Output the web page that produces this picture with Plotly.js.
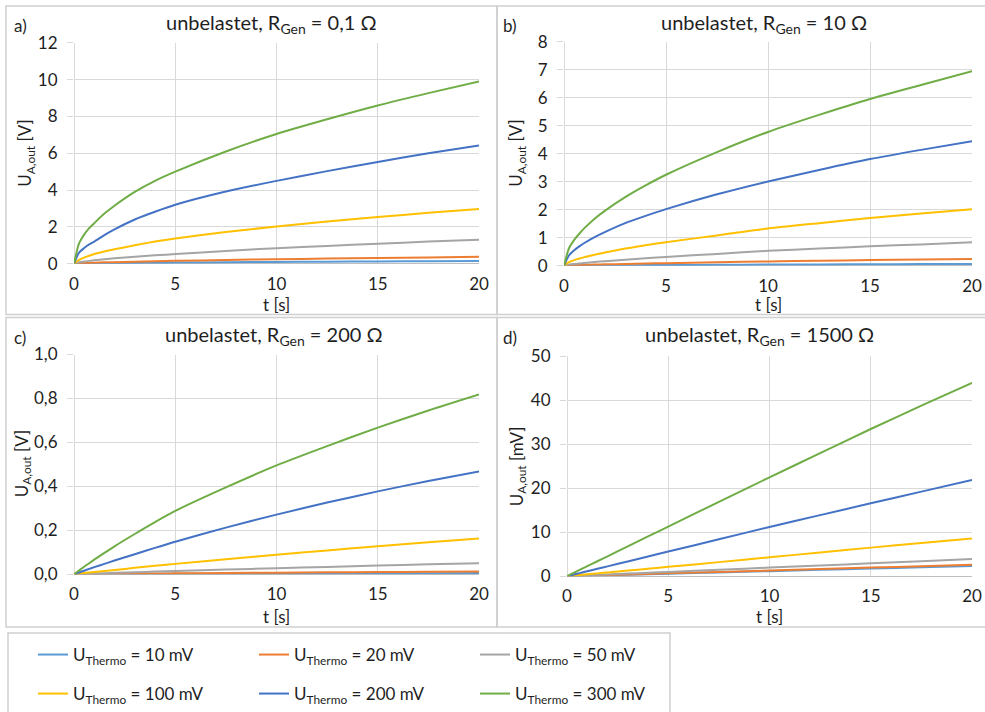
<!DOCTYPE html>
<html>
<head>
<meta charset="utf-8">
<script src="https://cdn.plot.ly/plotly-3.0.1.min.js"></script>
<style>html,body{margin:0;padding:0;background:#fff;}#chart{width:985px;height:712px;}</style>
</head>
<body>
<div id="chart"></div>
<script>
// ---- data ----
const t = [0, 0.25, 0.5, 0.75, 1, 1.5, 2, 3, 4, 5, 7.5, 10, 12.5, 15, 17.5, 20];
const seriesNames = ["U<sub>Thermo</sub> = 10 mV", "U<sub>Thermo</sub> = 20 mV", "U<sub>Thermo</sub> = 50 mV",
                     "U<sub>Thermo</sub> = 100 mV", "U<sub>Thermo</sub> = 200 mV", "U<sub>Thermo</sub> = 300 mV"];
const seriesColors = ["#5B9BD5", "#ED7D31", "#A5A5A5", "#FFC000", "#4472C4", "#70AD47"];

// a) R_Gen = 0,1 Ohm  [V]
const a10  = [0,0.008,0.012,0.016,0.02,0.026,0.032,0.041,0.05,0.057,0.076,0.092,0.106,0.119,0.132,0.143];
const a20  = [0,0.02,0.03,0.04,0.05,0.07,0.08,0.105,0.13,0.15,0.195,0.24,0.275,0.31,0.34,0.37];
const a50  = [0,0.07,0.11,0.15,0.18,0.24,0.29,0.37,0.45,0.52,0.69,0.84,0.96,1.08,1.2,1.3];
const a100 = [0,0.2,0.33,0.43,0.52,0.66,0.78,1.0,1.2,1.37,1.72,2.02,2.29,2.53,2.76,2.97];
const a200 = [0,0.6,0.85,1.05,1.2,1.55,1.86,2.4,2.82,3.2,3.92,4.5,5.03,5.53,6.0,6.43];
const a300 = [0,1.1,1.58,1.93,2.2,2.72,3.15,3.9,4.5,5.0,6.1,7.05,7.85,8.6,9.27,9.9];

// b) R_Gen = 10 Ohm  [V]
const b10  = [0,0.003,0.004,0.006,0.007,0.009,0.011,0.015,0.019,0.022,0.03,0.038,0.044,0.049,0.054,0.06];
const b20  = [0,0.01,0.017,0.023,0.028,0.037,0.046,0.06,0.074,0.088,0.12,0.151,0.174,0.197,0.217,0.24];
const b50  = [0,0.036,0.059,0.079,0.097,0.13,0.16,0.21,0.26,0.31,0.42,0.53,0.61,0.69,0.76,0.84];
const b100 = [0,0.126,0.196,0.253,0.304,0.39,0.47,0.61,0.73,0.84,1.08,1.33,1.52,1.7,1.86,2.02];
const b200 = [0,0.37,0.55,0.69,0.81,1.02,1.2,1.52,1.78,2.02,2.55,3.01,3.42,3.81,4.14,4.45];
const b300 = [0,0.63,0.92,1.14,1.34,1.68,1.96,2.45,2.87,3.25,4.06,4.78,5.39,5.96,6.46,6.95];

// c) R_Gen = 200 Ohm  [V]
const c10  = [0,0.0001,0.0002,0.0003,0.0004,0.0005,0.0007,0.001,0.0013,0.0016,0.0023,0.003,0.0036,0.0041,0.0046,0.005];
const c20  = [0,0.0002,0.0004,0.0006,0.0008,0.0012,0.0016,0.0024,0.0031,0.0038,0.0055,0.0071,0.0085,0.0098,0.011,0.012];
const c50  = [0,0.0008,0.0016,0.0024,0.0032,0.0047,0.0062,0.009,0.012,0.015,0.021,0.027,0.033,0.039,0.045,0.05];
const c100 = [0,0.0025,0.005,0.0073,0.0097,0.0145,0.019,0.029,0.038,0.047,0.068,0.089,0.108,0.127,0.145,0.163];
const c200 = [0,0.008,0.016,0.024,0.032,0.047,0.062,0.091,0.12,0.148,0.212,0.271,0.326,0.377,0.424,0.467];
const c300 = [0,0.017,0.034,0.05,0.066,0.097,0.127,0.183,0.237,0.288,0.395,0.495,0.583,0.667,0.745,0.818];

// d) R_Gen = 1500 Ohm  [mV]
const d10  = [0,0.03,0.06,0.09,0.12,0.17,0.23,0.35,0.46,0.58,0.86,1.15,1.44,1.73,2.01,2.3];
const d20  = [0,0.03,0.07,0.1,0.13,0.2,0.26,0.39,0.52,0.65,0.98,1.3,1.63,1.95,2.28,2.6];
const d50  = [0,0.05,0.1,0.15,0.2,0.3,0.39,0.59,0.79,0.98,1.47,1.96,2.44,2.93,3.41,3.9];
const d100 = [0,0.11,0.22,0.32,0.43,0.64,0.86,1.28,1.7,2.13,3.2,4.3,5.4,6.5,7.55,8.6];
const d200 = [0,0.28,0.56,0.84,1.12,1.68,2.24,3.36,4.48,5.6,8.4,11.2,13.9,16.6,19.25,21.9];
const d300 = [0,0.57,1.14,1.7,2.27,3.4,4.53,6.8,9.05,11.3,16.9,22.5,28.0,33.5,38.8,44.0];

const panelTitles = ["unbelastet, R<sub>Gen</sub> = 0,1 Ω", "unbelastet, R<sub>Gen</sub> = 10 Ω",
                     "unbelastet, R<sub>Gen</sub> = 200 Ω", "unbelastet, R<sub>Gen</sub> = 1500 Ω"];
const panelLabels = ["a)", "b)", "c)", "d)"];
const xTitle = "t [s]";
const yTitles = ["U<sub>A,out</sub> [V]", "U<sub>A,out</sub> [V]", "U<sub>A,out</sub> [V]", "U<sub>A,out</sub> [mV]"];

// ---- layout helpers ----
const W = 985, H = 712;
const px = v => v / W;
const py = v => 1 - v / H;
const FONT = "Lato, 'Open Sans', sans-serif";
const TXT = "#1f1f1f";
const GRID = "#d9d9d9";

const panels = [
  {data: [a10,a20,a50,a100,a200,a300], xa: "x",  ya: "y"},
  {data: [b10,b20,b50,b100,b200,b300], xa: "x2", ya: "y2"},
  {data: [c10,c20,c50,c100,c200,c300], xa: "x3", ya: "y3"},
  {data: [d10,d20,d50,d100,d200,d300], xa: "x4", ya: "y4"}
];

const traces = [];
panels.forEach((p, pi) => {
  p.data.forEach((ys, si) => {
    traces.push({
      x: t, y: ys, type: "scatter", mode: "lines",
      name: seriesNames[si],
      line: {color: seriesColors[si], width: 2, shape: "spline", smoothing: 0.7},
      xaxis: p.xa, yaxis: p.ya,
      showlegend: pi === 0,
      legend: si < 3 ? "legend" : "legend2",
      hoverinfo: "skip"
    });
  });
});

function xAx(domain, anchor) {
  return {domain: domain, anchor: anchor, range: [0, 20], dtick: 5, tick0: 0,
    showgrid: true, gridcolor: GRID, gridwidth: 1, zeroline: true, zerolinecolor: GRID, zerolinewidth: 1,
    showline: false, ticks: "", ticklabelstandoff: 8,
    tickfont: {family: FONT, size: 17, color: TXT}, fixedrange: true};
}
function yAx(domain, anchor, range, dtick, fmt) {
  return {domain: domain, anchor: anchor, range: range, dtick: dtick, tick0: 0, tickformat: fmt,
    showgrid: true, gridcolor: GRID, gridwidth: 1, zeroline: true, zerolinecolor: "#bfbfbf", zerolinewidth: 1.3,
    showline: false, ticks: "outside", ticklen: 6, tickcolor: GRID, ticklabelstandoff: 6,
    tickfont: {family: FONT, size: 17, color: TXT}, fixedrange: true};
}

const ann = [];
function addText(text, x, y, size, angle) {
  ann.push({text: text, xref: "paper", yref: "paper", x: px(x), y: py(y), xanchor: "center", yanchor: "middle",
            showarrow: false, textangle: angle || 0, font: {family: FONT, size: size, color: TXT}});
}
const titlePos = [[271, 24], [764, 24], [274, 336], [759, 336]];
const labelPos = [[20, 26], [510, 26], [20, 338], [510, 338]];
const xtPos = [[276, 305], [768, 305], [276, 617], [769, 617]];
const ytPos = [[26, 154], [517, 154], [23, 465], [518, 467]];
for (let i = 0; i < 4; i++) {
  addText(panelTitles[i], titlePos[i][0], titlePos[i][1], 20);
  addText(panelLabels[i], labelPos[i][0], labelPos[i][1], 17);
  addText(xTitle, xtPos[i][0], xtPos[i][1], 17);
  addText(yTitles[i], ytPos[i][0], ytPos[i][1], 17, -90);
}

function frame(x0, y0, x1, y1) {
  return {type: "rect", xref: "paper", yref: "paper", x0: px(x0), x1: px(x1), y0: py(y1), y1: py(y0),
          line: {color: "#d0d0d0", width: 1.5}, fillcolor: "rgba(0,0,0,0)", layer: "below"};
}

const legendCommon = {orientation: "h", xanchor: "left", yanchor: "middle", bgcolor: "rgba(0,0,0,0)",
  borderwidth: 0, entrywidth: 176, entrywidthmode: "pixels", font: {family: FONT, size: 17, color: TXT},
  itemclick: false, itemdoubleclick: false};

const layout = {
  width: W, height: H, margin: {l: 0, r: 0, t: 0, b: 0},
  paper_bgcolor: "#fff", plot_bgcolor: "rgba(0,0,0,0)",
  separators: ",.",
  font: {family: FONT, color: TXT},
  xaxis:  xAx([px(74), px(479)], "y"),
  yaxis:  yAx([py(264), py(43)], "x", [0, 12], 2, ""),
  xaxis2: xAx([px(564), px(972)], "y2"),
  yaxis2: yAx([py(266), py(42)], "x2", [0, 8], 1, ""),
  xaxis3: xAx([px(74), px(479)], "y3"),
  yaxis3: yAx([py(575), py(355)], "x3", [0, 1], 0.2, ".1f"),
  xaxis4: xAx([px(567), px(972)], "y4"),
  yaxis4: yAx([py(577), py(357)], "x4", [0, 50], 10, ""),
  legend:  Object.assign({}, legendCommon, {x: px(33), y: py(655)}),
  legend2: Object.assign({}, legendCommon, {x: px(33), y: py(695)}),
  annotations: ann,
  shapes: [frame(6, 6, 497, 315), frame(497, 6, 992, 315), frame(6, 318, 497, 628),
           frame(497, 318, 992, 628), frame(8, 634, 670, 720)],
  showlegend: true
};

Plotly.newPlot("chart", traces, layout, {displayModeBar: false, staticPlot: false, responsive: false});
</script>
</body>
</html>
